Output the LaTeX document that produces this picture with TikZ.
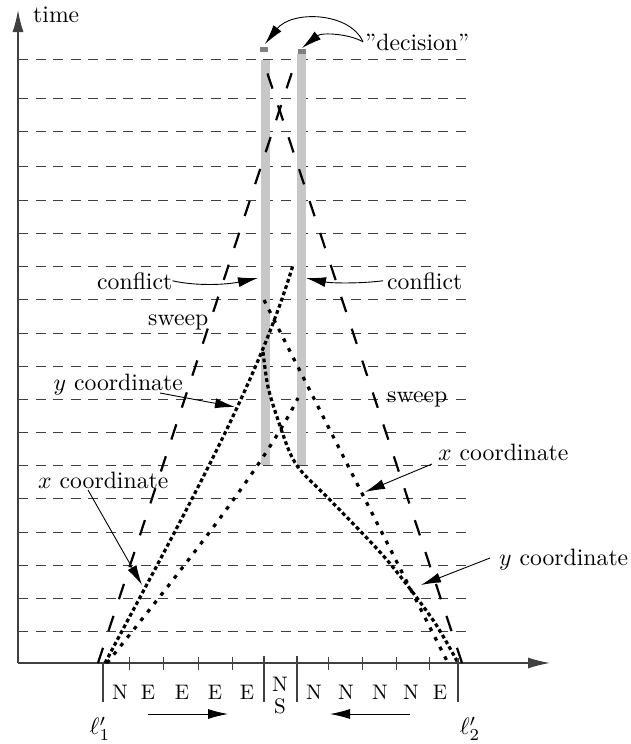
\documentclass[tikz,border=0pt]{standalone}
\usepackage{graphicx}
\usetikzlibrary{arrows.meta}

\newcommand{\lbltxt}[1]{\scalebox{2.37}{#1}}
\newcommand{\celltxt}[1]{\scalebox{2.1}{#1}}

\begin{document}
\begin{tikzpicture}[x=1pt, y=-1pt,
    lbl/.style = {font=\normalsize, inner sep=0pt},
    cell/.style = {font=\normalsize, inner sep=0pt},
    axis/.style = {draw=black!75, line width=1.4pt, -{Latex[length=22pt,width=11pt]}},
    hline/.style = {draw=black!75, line width=0.9pt, dash pattern=on 10pt off 7.5pt},
    sweepdash/.style = {line width=2.2pt, dash pattern=on 16pt off 17.6pt},
    ydots/.style = {line width=3.2pt, dash pattern=on 3.8pt off 2.8pt},
    xdots/.style = {line width=3.2pt, dash pattern=on 3.8pt off 7pt},
    pointer/.style = {line width=0.9pt, -{Latex[length=20pt,width=10pt]}},
    confbar/.style = {fill=black!22},
    decmark/.style = {fill=black!50},
    longtick/.style = {draw=black!75, line width=1.2pt},
    shorttick/.style = {draw=black!75, line width=1pt}
]
    \useasboundingbox (0,0) rectangle (630,744);

    % --- time lines ---
    \foreach \y in {59,98,131,166,200,233,266,299,333,366,399,432,465,498,532,565,598,631}
        \draw[hline] (18,\y) -- (472,\y);

    % --- axes ---
    \coordinate (O) at (18,663);
    \coordinate (tTop) at (18,10);
    \coordinate (xEnd) at (550,663);
    \draw[axis] (O) -- (tTop);
    \draw[axis] (O) -- (xEnd);
    \node[lbl, anchor=base west] (time) at (33,22) {\lbltxt{time}};

    % --- conflict bars and decisions ---
    \fill[confbar] (261,60) rectangle (270,465);
    \fill[confbar] (297,54) rectangle (306,465);
    \fill[decmark] (260,47) rectangle (268,52);
    \fill[decmark] (298,49) rectangle (306,54);

    % --- sweeps ---
    \draw[sweepdash] (98,663) -- (292,72);
    \draw[sweepdash] (462,663) -- (267,72);

    % --- coordinates ---
    \draw[ydots] (105,663) .. controls (184.5,513) and (257,385) .. (293,265);
    \draw[xdots] (107,663) .. controls (179,573) and (263,468) .. (298,398);
    \draw[xdots] (264,300) -- (448,663);
    \draw[ydots] plot[smooth] coordinates {(263,352) (268,387) (278,420)
        (290,453) (302,472) (333,503) (387,560) (433,620) (458,663)};

    % --- ticks and cells ---
    \foreach \x in {129,163,198,232,328,362,396,429}
        \draw[shorttick] (\x,657) -- (\x,670);
    \draw[longtick] (103,663) -- (103,702);
    \draw[longtick] (264,656) -- (264,702);
    \draw[longtick] (297,656) -- (297,702);
    \draw[longtick] (458,658) -- (458,702);
    \foreach \x/\t in {120/N,148/E,182/E,215/E,247/E,314/N,346/N,380/N,411/N,440/E}
        \node[cell] (c\x) at (\x,692) {\celltxt{\t}};
    \node[cell] (midN) at (280,684) {\celltxt{N}};
    \node[cell] (midS) at (280,706) {\celltxt{S}};
    \node[lbl] (l1) at (100,729) {\lbltxt{$\ell'_1$}};
    \node[lbl] (l2) at (470,729) {\lbltxt{$\ell'_2$}};

    \coordinate (goR0) at (148,714);
    \coordinate (goR1) at (228,714);
    \coordinate (goL0) at (410,714);
    \coordinate (goL1) at (330,714);
    \draw[pointer] (goR0) -- (goR1);
    \draw[pointer] (goL0) -- (goL1);

    % --- labels ---
    \node[lbl, anchor=base west] (dec) at (365,50) {\lbltxt{''decision''}};
    \coordinate (decL) at (265,44);
    \coordinate (decR) at (302,48);
    \draw[pointer] ([xshift=-2pt]dec.west) .. controls (350,12) and (292,10) .. (decL);
    \draw[pointer] ([xshift=-2pt]dec.west) .. controls (350,34) and (322,32) .. (decR);

    \node[lbl, anchor=base west] (confL) at (97,289) {\lbltxt{conflict}};
    \node[lbl, anchor=base west] (confR) at (387,289) {\lbltxt{conflict}};
    \coordinate (barL) at (258,278);
    \coordinate (barR) at (306,278);
    \draw[pointer] (confL.east) .. controls (195,286) and (225,285) .. (barL);
    \draw[pointer] ([xshift=-4pt]confR.west) .. controls (357,284) and (330,283) .. (barR);

    \node[lbl, anchor=base west] (swL) at (148,325) {\lbltxt{sweep}};
    \node[lbl, anchor=base west] (swR) at (387,402) {\lbltxt{sweep}};

    \node[lbl, anchor=base east] (ycL) at (183,390) {\lbltxt{$y$ coordinate}};
    \node[lbl, anchor=base west] (xcL) at (38,488) {\lbltxt{$x$ coordinate}};
    \node[lbl, anchor=base west] (xcR) at (438,460) {\lbltxt{$x$ coordinate}};
    \node[lbl, anchor=base west] (ycR) at (499,565) {\lbltxt{$y$ coordinate}};
    \coordinate (ycL0) at (160,393);
    \coordinate (ycL1) at (235,407);
    \coordinate (xcL0) at (88,490);
    \coordinate (xcL1) at (142,585);
    \coordinate (xcR0) at (432,464);
    \coordinate (xcR1) at (365,492);
    \coordinate (ycR0) at (490,558);
    \coordinate (ycR1) at (421,585);
    \draw[pointer] (ycL0) -- (ycL1);
    \draw[pointer] (xcL0) -- (xcL1);
    \draw[pointer] (xcR0) -- (xcR1);
    \draw[pointer] (ycR0) -- (ycR1);
\end{tikzpicture}
\end{document}
